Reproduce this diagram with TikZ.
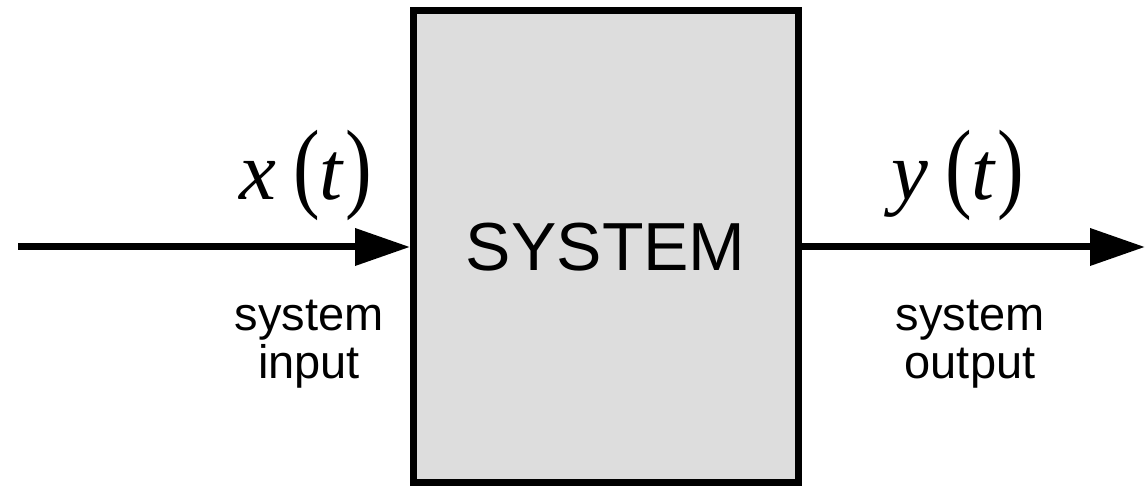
\documentclass[tikz,border=0pt]{standalone}
\usepackage{fontspec}
\usepackage{graphicx}
\setmainfont{Liberation Sans}
\newfontfamily\mathserif{Liberation Serif}
\usetikzlibrary{arrows.meta}

\definecolor{boxgray}{HTML}{DDDDDD}

% signal name with its time argument
\newcommand{\sigparen}[1]{\scalebox{0.8}[1]{\mathserif\fontsize{50}{50}\selectfont #1}}
\newcommand{\sigof}[1]{%
  {\mathserif\fontsize{41.5}{41.5}\selectfont\itshape #1}\hspace{8.25pt}%
  \sigparen{(}\hspace{0pt}%
  {\mathserif\fontsize{41.5}{41.5}\selectfont\itshape t}\hspace{1.5pt}%
  \sigparen{)}}

\begin{document}
\begin{tikzpicture}[
  x=0.5pt, y=0.5pt,
  sysbox/.style={draw, fill=boxgray, line width=3.5pt, inner sep=0pt,
    minimum width=192.25pt, minimum height=236pt,
    font=\fontsize{34}{34}\selectfont},
  sigline/.style={line width=3.5pt, -{Triangle[length=27.5pt, width=18pt]}},
  caption/.style={align=center, inner sep=0pt, font=\fontsize{23.5}{24}\selectfont},
  signame/.style={anchor=base, inner sep=0pt}
]
  \useasboundingbox (0,0) rectangle (1146,486);

  \node[sysbox] (sys) at (605.75,239) {SYSTEM};

  \coordinate (in) at (18,239);
  \coordinate (out) at (1145,239);
  \draw[sigline] (in) -- (sys.west);
  \draw[sigline] (sys.east) -- (out);

  \node[signame] (xlabel) at (306,286) {\sigof{x}};
  \node[signame] (ylabel) at (958,286) {\sigof{y}};

  \node[caption] (incap) at (309,141.5) {system\\input};
  \node[caption] (outcap) at (970,141.5) {system\\output};
\end{tikzpicture}
\end{document}
